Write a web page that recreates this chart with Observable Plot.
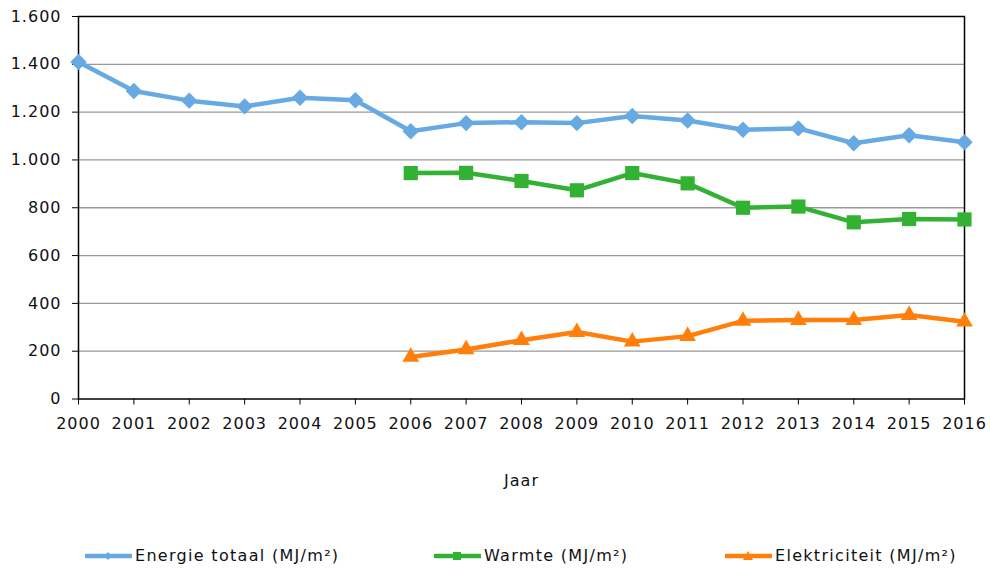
<!DOCTYPE html>
<html>
<head>
<meta charset="utf-8">
<script src="https://cdn.jsdelivr.net/npm/d3@7"></script>
<script src="https://cdn.jsdelivr.net/npm/@observablehq/plot@0.6"></script>
<style>
  html, body { margin: 0; padding: 0; background: #fff; }
  body { width: 990px; height: 571px; overflow: hidden; font-family: "DejaVu Sans", Verdana, sans-serif; }
  #legend { position: relative; height: 41px; font-size: 16px; letter-spacing: 1.3px; color: #111; }
  .item { position: absolute; top: 16px; display: flex; align-items: center; }
  .item svg { display: block; margin-right: 3px; }
</style>
</head>
<body>
<div id="chart"></div>
<div id="legend"></div>
<script>
// Energy use per m² greenhouse, per year
const years = [2000, 2001, 2002, 2003, 2004, 2005, 2006, 2007, 2008, 2009, 2010, 2011, 2012, 2013, 2014, 2015, 2016];
const energieTotaal = [1410, 1288, 1248, 1224, 1260, 1250, 1120, 1154, 1158, 1154, 1184, 1165, 1126, 1132, 1070, 1103, 1074];
const warmteYears = [2006, 2007, 2008, 2009, 2010, 2011, 2012, 2013, 2014, 2015, 2016];
const warmte = [945, 946, 912, 873, 945, 902, 800, 805, 739, 753, 751];
const elektriciteit = [176, 207, 246, 280, 240, 263, 327, 330, 330, 351, 323];
const yTicks = [0, 200, 400, 600, 800, 1000, 1200, 1400, 1600];
const seriesNames = ["Energie totaal (MJ/m²)", "Warmte (MJ/m²)", "Elektriciteit (MJ/m²)"];
const colors = ["#67a9e2", "#33b133", "#ff7f0a"];

const nl = d3.formatLocale({decimal: ",", thousands: ".", grouping: [3], currency: ["€ ", ""]});
const fmt = nl.format(",");

const rows = [
  ...years.map((year, i) => ({year, value: energieTotaal[i], series: seriesNames[0]})),
  ...warmteYears.map((year, i) => ({year, value: warmte[i], series: seriesNames[1]})),
  ...warmteYears.map((year, i) => ({year, value: elektriciteit[i], series: seriesNames[2]}))
];
const bySeries = name => rows.filter(d => d.series === name);

const chart = Plot.plot({
  width: 990,
  height: 530,
  marginLeft: 78,
  marginRight: 26,
  marginTop: 16,
  marginBottom: 131.5,
  style: {fontFamily: "DejaVu Sans, Verdana, sans-serif", fontSize: "16px", letterSpacing: "1px", color: "#111", background: "#fff"},
  x: {domain: [2000, 2016], ticks: years, tickFormat: "d"},
  y: {domain: [0, 1600], ticks: yTicks, tickFormat: fmt},
  marks: [
    Plot.gridY(yTicks.slice(1, -1), {stroke: "#999", strokeOpacity: 1, strokeWidth: 1.3}),
    Plot.frame({stroke: "#000", strokeWidth: 1.5}),
    Plot.axisY(yTicks, {tickSize: 6, tickPadding: 11, tickFormat: fmt, stroke: "#000", label: null}),
    Plot.axisX(years, {tickSize: 6, tickPadding: 13, tickFormat: "d", stroke: "#000",
      label: "Jaar", labelAnchor: "center", labelArrow: "none", labelOffset: 87}),
    Plot.line(bySeries(seriesNames[0]), {x: "year", y: "value", stroke: colors[0], strokeWidth: 4.5}),
    Plot.dot(bySeries(seriesNames[0]), {x: "year", y: "value", symbol: "diamond2", fill: colors[0], stroke: null, r: 7.4}),
    Plot.line(bySeries(seriesNames[1]), {x: "year", y: "value", stroke: colors[1], strokeWidth: 4.5}),
    Plot.dot(bySeries(seriesNames[1]), {x: "year", y: "value", symbol: "square", fill: colors[1], stroke: null, r: 8}),
    Plot.line(bySeries(seriesNames[2]), {x: "year", y: "value", stroke: colors[2], strokeWidth: 4.5}),
    Plot.dot(bySeries(seriesNames[2]), {x: "year", y: "value", symbol: "triangle", fill: colors[2], stroke: null, r: 6.2})
  ]
});
document.getElementById("chart").appendChild(chart);

// Legend: line swatch with a small marker, then the series name
const legendX = [85, 434, 725];
const markerPaths = [
  "M23 3 L27 7 L23 11 L19 7 Z",
  "M19 3 H27 V11 H19 Z",
  "M23 2 L28 11 L18 11 Z"
];
const legend = d3.select("#legend");
seriesNames.forEach((name, i) => {
  const item = legend.append("div").attr("class", "item").style("left", legendX[i] + "px");
  const svg = item.append("svg").attr("width", 47).attr("height", 14);
  svg.append("line").attr("x1", 1).attr("x2", 46).attr("y1", 7).attr("y2", 7)
    .attr("stroke", colors[i]).attr("stroke-width", 4.5).attr("stroke-linecap", "round");
  svg.append("path").attr("d", markerPaths[i]).attr("fill", colors[i]);
  item.append("span").text(name);
});
</script>
</body>
</html>
